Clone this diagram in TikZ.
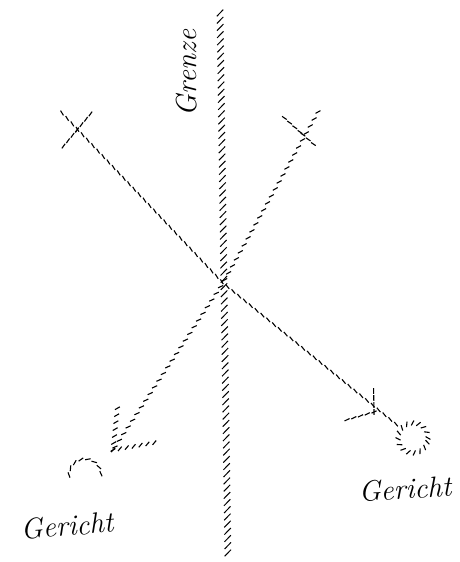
\documentclass[tikz,border=0pt]{standalone}
\usetikzlibrary{decorations.markings}
\begin{document}
\begin{tikzpicture}[
   x=1pt,y=1pt,
   hatchline/.style 2 args={decorate,decoration={markings,
     mark=between positions 0 and 1 step #2 with {\draw[line width=1.1pt] (#1:2.8pt) -- (#1:-2.8pt);}}},
   grenzeline/.style={decorate,decoration={markings,
     mark=between positions 0 and 1 step 7.2pt with {\draw[line width=1pt] (135:4.6pt) -- (135:-4.6pt);}}},
   handtext/.style={font=\fontsize{29}{29}\selectfont\itshape,inner sep=0pt},
   ring/.style={circle,minimum size=30pt,inner sep=0pt}
 ]
  \useasboundingbox (0,0) rectangle (460,562);
  \coordinate (gtop) at (220,549);
  \coordinate (gbot) at (228,2);
  \coordinate (x) at (223,279);
  \coordinate (ulend) at (62,449);
  \coordinate (ulcross) at (77,432);
  \coordinate (urend) at (318,450);
  \coordinate (urcross) at (300,430);
  \coordinate (tipL) at (113,112);
  \coordinate (tipR) at (374,150);
  \coordinate (gerL) at (85,87);
  \node[ring] (gerR) at (413,124) {};
  \node[handtext,rotate=90] (grenze) at (187,489) {Grenze};
  \node[handtext,rotate=5] (gerichtL) at (67,36) {Gericht};
  \node[handtext,rotate=3] (gerichtR) at (405,73) {Gericht};
  \path[grenzeline] (gtop) -- (gbot);
  \path[hatchline={-12}{7.5pt}] (ulend) -- (x) -- (gerR);
  \path[hatchline={-32}{8pt}] (urend) -- (x) -- (tipL);
  \path[hatchline={5}{7pt}] (ulcross) -- ++(50:28) (ulcross) -- ++(230:26);
  \path[hatchline={8}{7pt}] (urcross) -- ++(138:24) (urcross) -- ++(318:24);
  \path[hatchline={-54}{7pt}] (tipL) -- ++(84:46);
  \path[hatchline={40}{7pt}] (tipL) -- ++(10:47);
  \path[hatchline={0}{7pt}] (tipR) -- ++(91:26);
  \path[hatchline={10}{7pt}] (tipR) -- ++(196:35);
  \path[hatchline={60}{6pt}] (gerR.center) circle[radius=15pt];
  \path[hatchline={20}{7pt}] (gerL) ++(180:16pt) arc[start angle=180,end angle=0,radius=16pt];
\end{tikzpicture}
\end{document}
